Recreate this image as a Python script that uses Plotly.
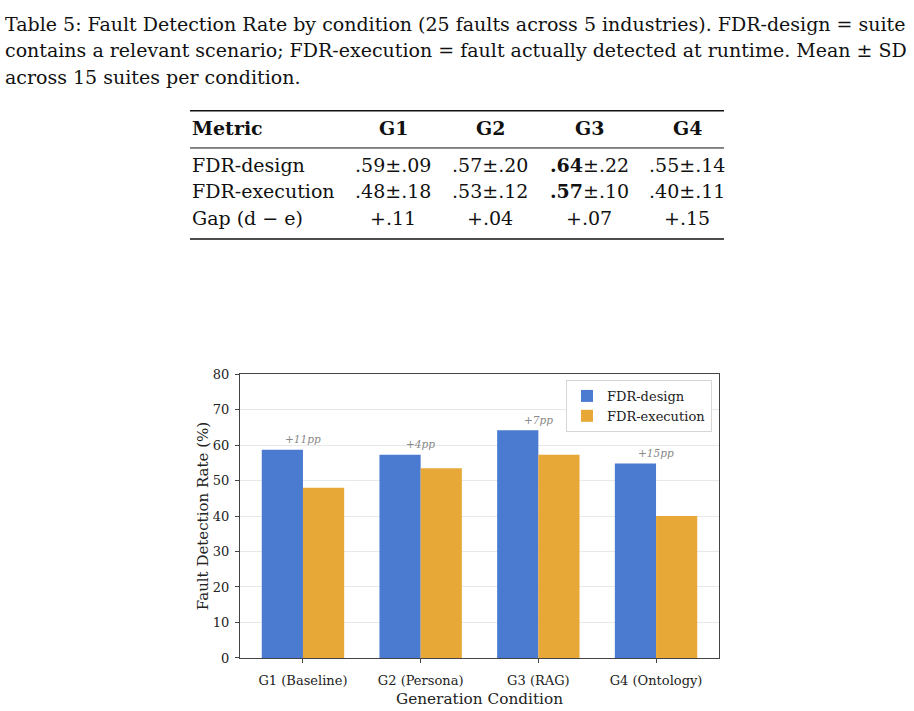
import plotly.graph_objects as go

# ---------------- data ----------------
categories = ["G1 (Baseline)", "G2 (Persona)", "G3 (RAG)", "G4 (Ontology)"]
fdr_design = [58.7, 57.3, 64.2, 54.8]
fdr_execution = [48.0, 53.5, 57.3, 40.0]
gap_labels = ["+11pp", "+4pp", "+7pp", "+15pp"]

caption_lines = [
    "Table 5: Fault Detection Rate by condition (25 faults across 5 industries). FDR-design = suite",
    "contains a relevant scenario; FDR-execution = fault actually detected at runtime. Mean ± SD",
    "across 15 suites per condition.",
]
table_header = ["Metric", "G1", "G2", "G3", "G4"]
table_rows = [
    ["FDR-design", ".59±.09", ".57±.20", "<b>.64</b>±.22", ".55±.14"],
    ["FDR-execution", ".48±.18", ".53±.12", "<b>.57</b>±.10", ".40±.11"],
    ["Gap (d − e)", "+.11", "+.04", "+.07", "+.15"],
]

W, H = 914, 711
BLUE = "#4a7bd0"
ORANGE = "#e8a838"
SERIF_DOC = "DejaVu Serif"
SERIF_PLT = "DejaVu Serif"
DOC_SIZE = 19.0
TAB_SIZE = 19


def px(x):
    return x / W


def py(y):
    return 1 - y / H


fig = go.Figure()
fig.add_trace(go.Bar(x=categories, y=fdr_design, name="FDR-design",
                     marker=dict(color=BLUE, line=dict(width=0))))
fig.add_trace(go.Bar(x=categories, y=fdr_execution, name="FDR-execution",
                     marker=dict(color=ORANGE, line=dict(width=0))))

annotations = []
for c, d, g in zip(categories, fdr_design, gap_labels):
    annotations.append(dict(x=c, y=d + 0.7, xref="x", yref="y", text="<i>" + g + "</i>",
                            showarrow=False, yanchor="bottom", xanchor="center",
                            font=dict(family=SERIF_PLT, size=10.5, color="#888888")))

# caption
cap_y = [17, 44, 71]
for line, yy in zip(caption_lines, cap_y):
    annotations.append(dict(x=px(3), y=py(yy), xref="paper", yref="paper", text=line,
                            showarrow=False, xanchor="left", yanchor="middle",
                            font=dict(family=SERIF_DOC, size=DOC_SIZE, color="#111111")))

# table
col_x = [190, 393, 490, 589, 687]
head_y = 124
row_y = [161, 188, 216]
for i, h in enumerate(table_header):
    annotations.append(dict(x=px(col_x[i]), y=py(head_y), xref="paper", yref="paper",
                            text="<b>" + h + "</b>", showarrow=False,
                            xanchor="left" if i == 0 else "center", yanchor="middle",
                            font=dict(family=SERIF_DOC, size=TAB_SIZE, color="#111111")))
for r, yy in zip(table_rows, row_y):
    for i, cell in enumerate(r):
        annotations.append(dict(x=px(col_x[i]), y=py(yy), xref="paper", yref="paper",
                                text=cell, showarrow=False,
                                xanchor="left" if i == 0 else "center", yanchor="middle",
                                font=dict(family=SERIF_DOC, size=TAB_SIZE, color="#111111")))

shapes = [
    dict(type="line", xref="paper", yref="paper", x0=px(190), x1=px(724), y0=py(106), y1=py(106),
         line=dict(color="#111111", width=1.6)),
    dict(type="line", xref="paper", yref="paper", x0=px(190), x1=px(724), y0=py(144), y1=py(144),
         line=dict(color="#111111", width=1)),
    dict(type="line", xref="paper", yref="paper", x0=px(190), x1=px(724), y0=py(237), y1=py(237),
         line=dict(color="#111111", width=1.6)),
]

fig.update_layout(
    width=W, height=H,
    margin=dict(l=0, r=0, t=0, b=0),
    paper_bgcolor="white", plot_bgcolor="white",
    barmode="group", bargap=0.3, bargroupgap=0,
    annotations=annotations, shapes=shapes,
    font=dict(family=SERIF_PLT, color="#222222"),
    legend=dict(x=px(712), y=py(381), xanchor="right", yanchor="top",
                bgcolor="white", bordercolor="#d6d6d6", borderwidth=1,
                font=dict(family=SERIF_PLT, size=13, color="#222222"),
                tracegroupgap=0, itemwidth=30),
    showlegend=True,
)
fig.update_xaxes(domain=[px(240), px(719)], range=[-0.535, 3.535],
                 showline=True, linecolor="#444444", linewidth=1, mirror=True,
                 ticks="outside", ticklen=4, tickcolor="#444444", ticklabelstandoff=6,
                 tickfont=dict(family=SERIF_PLT, size=13, color="#222222"),
                 title=dict(text="Generation Condition", standoff=6,
                            font=dict(family=SERIF_PLT, size=15.3, color="#222222")),
                 showgrid=False)
fig.update_yaxes(domain=[py(665), py(375)], range=[0, 80], dtick=10,
                 showline=True, linecolor="#444444", linewidth=1, mirror=True,
                 ticks="outside", ticklen=4, tickcolor="#444444", ticklabelstandoff=3,
                 tickfont=dict(family=SERIF_PLT, size=13, color="#222222"),
                 showgrid=True, gridcolor="rgba(190,190,190,0.35)", gridwidth=1, zeroline=False,
                 layer="above traces",
                 title=dict(text="Fault Detection Rate (%)", standoff=0,
                            font=dict(family=SERIF_PLT, size=15, color="#222222")))

fig.write_html("out.html")
